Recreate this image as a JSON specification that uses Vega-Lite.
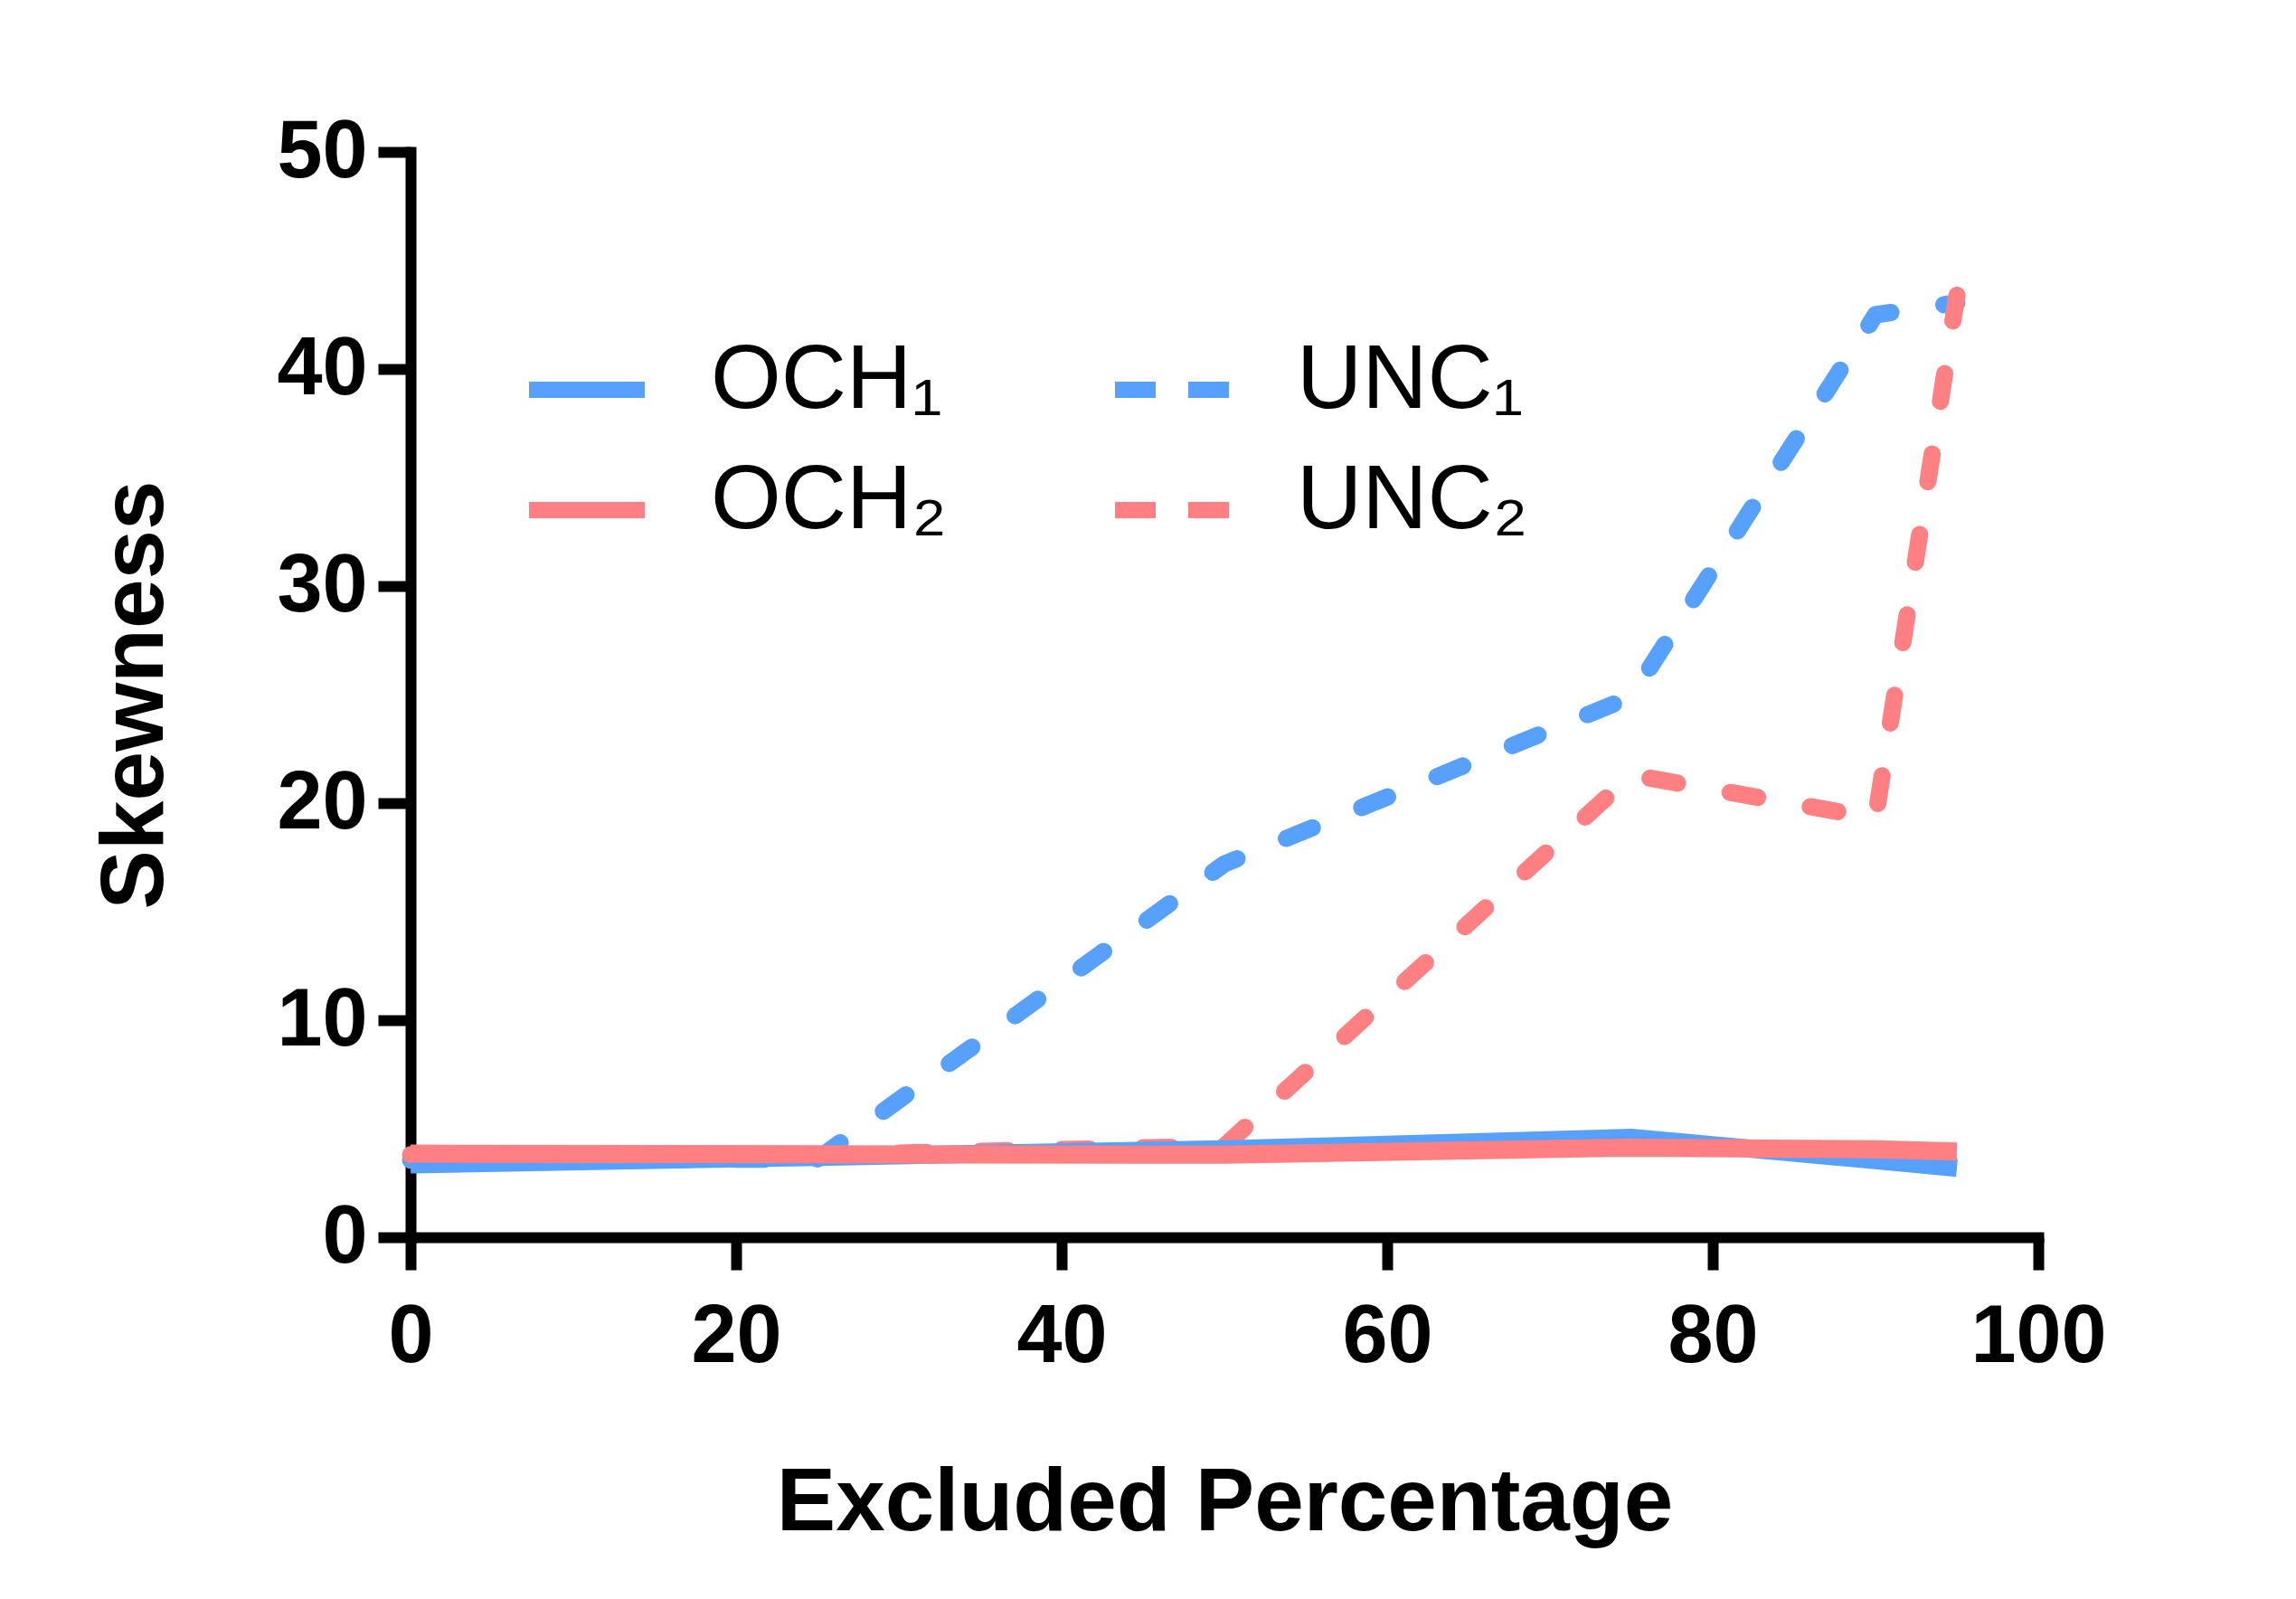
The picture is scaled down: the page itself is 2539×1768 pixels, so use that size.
{
  "$schema": "https://vega.github.io/schema/vega-lite/v6.json",
  "width": 1800,
  "height": 1200,
  "autosize": {"type": "none"},
  "padding": {"left": 454, "top": 168, "right": 285, "bottom": 400},
  "background": "white",
  "config": {"view": {"stroke": null}, "font": "Liberation Sans"},
  "data": {
    "values": [
      {"pct": 0, "skew": 3.55, "series": "UNC₁"},
      {"pct": 25, "skew": 3.6, "series": "UNC₁"},
      {"pct": 50, "skew": 17.2, "series": "UNC₁"},
      {"pct": 75, "skew": 24.9, "series": "UNC₁"},
      {"pct": 90, "skew": 42.5, "series": "UNC₁"},
      {"pct": 95, "skew": 43.05, "series": "UNC₁"},
      {"pct": 0, "skew": 3.8, "series": "UNC₂"},
      {"pct": 25, "skew": 3.8, "series": "UNC₂"},
      {"pct": 50, "skew": 4.2, "series": "UNC₂"},
      {"pct": 75, "skew": 21.3, "series": "UNC₂"},
      {"pct": 90, "skew": 19.3, "series": "UNC₂"},
      {"pct": 95, "skew": 43.4, "series": "UNC₂"},
      {"pct": 0, "skew": 3.35, "series": "OCH₁"},
      {"pct": 25, "skew": 3.7, "series": "OCH₁"},
      {"pct": 50, "skew": 4.05, "series": "OCH₁"},
      {"pct": 75, "skew": 4.58, "series": "OCH₁"},
      {"pct": 90, "skew": 3.55, "series": "OCH₁"},
      {"pct": 95, "skew": 3.2, "series": "OCH₁"},
      {"pct": 0, "skew": 3.85, "series": "OCH₂"},
      {"pct": 25, "skew": 3.82, "series": "OCH₂"},
      {"pct": 50, "skew": 3.8, "series": "OCH₂"},
      {"pct": 75, "skew": 4.13, "series": "OCH₂"},
      {"pct": 90, "skew": 4.05, "series": "OCH₂"},
      {"pct": 95, "skew": 3.95, "series": "OCH₂"}
    ]
  },
  "encoding": {
    "x": {
      "field": "pct",
      "type": "quantitative",
      "scale": {"domain": [0, 100], "nice": false, "zero": false},
      "axis": {
        "values": [0, 20, 40, 60, 80, 100],
        "title": "Excluded Percentage",
        "grid": false,
        "domainColor": "black",
        "domainWidth": 12,
        "domainCap": "square",
        "tickColor": "black",
        "tickWidth": 12,
        "tickSize": 36,
        "labelFont": "Liberation Sans",
        "labelFontWeight": "bold",
        "labelFontSize": 90,
        "labelColor": "black",
        "labelPadding": 30,
        "labelFlush": false,
        "labelOverlap": false,
        "titleFont": "Liberation Sans",
        "titleFontSize": 98,
        "titleFontWeight": "bold",
        "titleColor": "black",
        "titlePadding": 91
      }
    },
    "y": {
      "field": "skew",
      "type": "quantitative",
      "scale": {"domain": [0, 50], "nice": false, "zero": false},
      "axis": {
        "values": [0, 10, 20, 30, 40, 50],
        "title": "Skewness",
        "grid": false,
        "domainColor": "black",
        "domainWidth": 12,
        "domainCap": "square",
        "tickColor": "black",
        "tickWidth": 12,
        "tickSize": 36,
        "labelFont": "Liberation Sans",
        "labelFontWeight": "bold",
        "labelFontSize": 90,
        "labelColor": "black",
        "labelPadding": 12,
        "labelFlush": false,
        "labelOverlap": false,
        "titleFont": "Liberation Sans",
        "titleFontSize": 98,
        "titleFontWeight": "bold",
        "titleColor": "black",
        "titlePadding": 105
      }
    },
    "color": {
      "field": "series",
      "type": "nominal",
      "scale": {
        "domain": ["OCH₁", "OCH₂", "UNC₁", "UNC₂"],
        "range": ["#57A0FB", "#FF8082", "#57A0FB", "#FF8082"]
      },
      "legend": {
        "orient": "none",
        "legendX": 122,
        "legendY": 190,
        "columns": 2,
        "title": null,
        "padding": 0,
        "symbolType": "stroke",
        "symbolSize": 16384,
        "symbolStrokeWidth": 18,
        "labelFont": "Liberation Sans",
        "labelFontSize": 100,
        "labelColor": "black",
        "labelOffset": 64,
        "labelLimit": 800,
        "columnPadding": 149,
        "rowPadding": 20,
        "encode": {
          "symbols": {
            "update": {
              "strokeDash": {"signal": "indexof(datum.value, 'UNC') === 0 ? [45, 36] : []"}
            }
          },
          "labels": {
            "update": {
              "dy": {"value": -10}
            }
          }
        }
      }
    }
  },
  "layer": [
    {
      "transform": [{"filter": "indexof(datum.series, 'UNC') === 0"}],
      "mark": {"type": "line", "strokeWidth": 19, "strokeCap": "round", "strokeJoin": "round", "strokeDash": [31, 59]}
    },
    {
      "transform": [{"filter": "indexof(datum.series, 'OCH') === 0"}],
      "mark": {"type": "line", "strokeWidth": 20, "strokeCap": "butt", "strokeJoin": "miter"}
    }
  ]
}
